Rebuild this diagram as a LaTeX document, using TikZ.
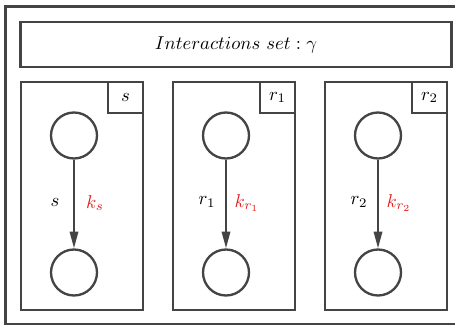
\documentclass[tikz,border=0pt]{standalone}
\usepackage{graphicx}
\usetikzlibrary{arrows.meta}
\definecolor{linegray}{HTML}{444444}
\definecolor{kred}{HTML}{E02020}
\newcommand{\mlabel}[1]{\scalebox{1.12}{$#1$}}
\begin{document}
\begin{tikzpicture}[x=0.6pt,y=-0.6pt,
  frame/.style={draw=linegray,line width=1.3pt},
  plate/.style={draw=linegray,line width=1.3pt,minimum width=122*0.6pt,minimum height=228*0.6pt,inner sep=0pt},
  tag/.style={draw=linegray,line width=1.3pt,minimum width=35*0.6pt,minimum height=31*0.6pt,inner sep=0pt,anchor=north east},
  var/.style={circle,draw=linegray,line width=1.4pt,minimum size=46*0.6pt,inner sep=0pt},
  edge/.style={draw=linegray,line width=1.3pt,-{Triangle[length=10pt,width=5pt]}},
  rate/.style={text=kred}]
\useasboundingbox (0,0) rectangle (459,325);
% outer frame, open towards the right edge
\coordinate (ftr) at (455,6.5);
\coordinate (ftl) at (5.5,6.5);
\coordinate (fbl) at (5.5,323.8);
\coordinate (fbr) at (455,323.8);
\draw[frame] (ftr) -- (ftl) -- (fbl) -- (fbr);
% title bar
\node[frame,minimum width=431*0.6pt,minimum height=45*0.6pt,inner sep=0pt] (title) at (236,44.5) {\mlabel{Interactions\ set : \gamma}};
% plates
\foreach \nm/\px/\lab/\klab in {s/82/s/k_s, ra/234/r_1/k_{r_1}, rb/386/r_2/k_{r_2}}{
  \node[plate] (p\nm) at (\px,196) {};
  \node[tag] (t\nm) at (p\nm.north east) {\mlabel{\lab}};
  \node[var] (u\nm) at (\px-8,135.5) {};
  \node[var] (v\nm) at (\px-8,272.5) {};
  \draw[edge] (u\nm) -- (v\nm);
  \node (l\nm) at (\px-27,202) {\mlabel{\lab}};
  \node[rate] (k\nm) at (\px+13,203) {\mlabel{\klab}};
}
\end{tikzpicture}
\end{document}
